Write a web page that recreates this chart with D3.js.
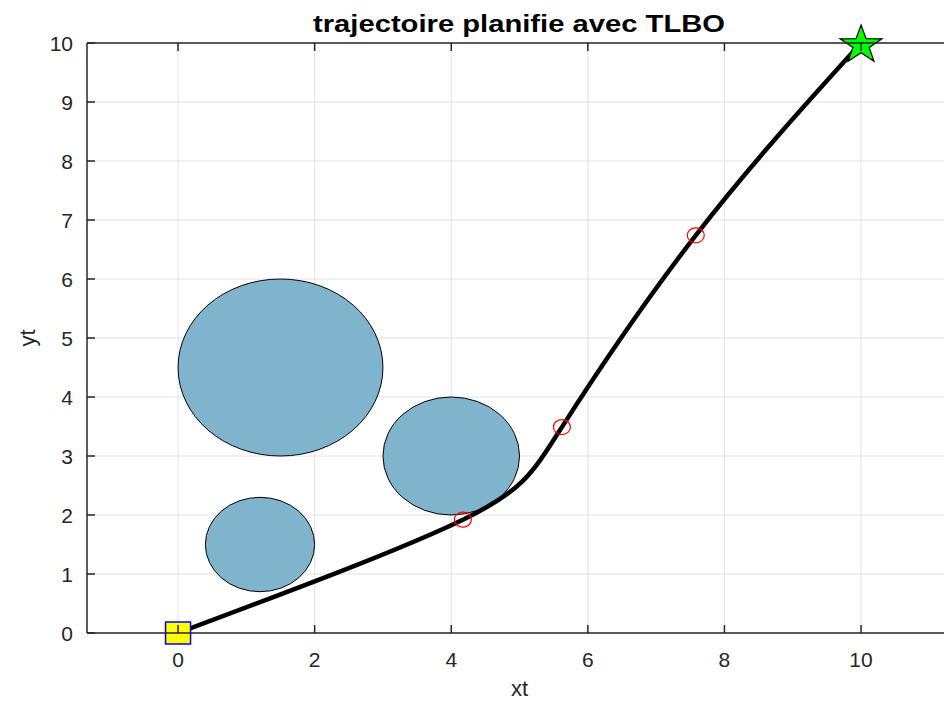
<!DOCTYPE html>
<html>
<head>
<meta charset="utf-8">
<script src="https://cdn.jsdelivr.net/npm/d3@7"></script>
<style>
  body { margin: 0; background: #fff; }
  svg { display: block; font-family: 'Liberation Sans', Arial, sans-serif; }
</style>
</head>
<body>
<svg id="chart" width="944" height="702"></svg>
<script>
// trajectory waypoints (start, via points, goal)
const pathX = [0, 4.17, 5.62, 7.58, 10];
const pathY = [0, 1.92, 3.49, 6.74, 10];
const viaIdx = [1, 2, 3];

// circular obstacles
const obsX = [1.5, 4, 1.2];
const obsY = [4.5, 3, 1.5];
const obsR = [1.5, 1, 0.8];

const xTicks = [0, 2, 4, 6, 8, 10];
const yTicks = [0, 1, 2, 3, 4, 5, 6, 7, 8, 9, 10];

const width = 944, height = 702;
const plot = { left: 87, right: 951, top: 43, bottom: 633 };

const svg = d3.select('#chart');

const x = d3.scaleLinear().domain([-1.333, 11.317]).range([plot.left, plot.right]);
const y = d3.scaleLinear().domain([0, 10]).range([plot.bottom, plot.top]);

// grid
const grid = svg.append('g').attr('class', 'grid');
grid.selectAll('.gx').data(xTicks).join('line')
  .attr('x1', d => x(d)).attr('x2', d => x(d))
  .attr('y1', plot.top).attr('y2', plot.bottom)
  .attr('stroke', '#e3e3e3').attr('stroke-width', 1);
grid.selectAll('.gy').data(yTicks).join('line')
  .attr('x1', plot.left).attr('x2', plot.right)
  .attr('y1', d => y(d)).attr('y2', d => y(d))
  .attr('stroke', '#e3e3e3').attr('stroke-width', 1);

// obstacles
svg.append('g').selectAll('ellipse')
  .data(obsX.map((d, i) => ({ cx: d, cy: obsY[i], r: obsR[i] })))
  .join('ellipse')
  .attr('cx', d => x(d.cx))
  .attr('cy', d => y(d.cy))
  .attr('rx', d => x(d.r) - x(0))
  .attr('ry', d => y(0) - y(d.r))
  .attr('fill', '#80b3cc')
  .attr('stroke', '#000')
  .attr('stroke-width', 1);

// trajectory
const pts = pathX.map((d, i) => [d, pathY[i]]);
const line = d3.line().x(d => x(d[0])).y(d => y(d[1])).curve(d3.curveNatural);
svg.append('path')
  .datum(pts)
  .attr('d', line)
  .attr('fill', 'none')
  .attr('stroke', '#000')
  .attr('stroke-width', 4.5)
  .attr('stroke-linejoin', 'round');

// via points
svg.append('g').selectAll('ellipse')
  .data(viaIdx.map(i => pts[i]))
  .join('ellipse')
  .attr('cx', d => x(d[0]))
  .attr('cy', d => y(d[1]))
  .attr('rx', 8.5).attr('ry', 7.5)
  .attr('fill', 'none')
  .attr('stroke', '#ff0000')
  .attr('stroke-width', 1.2);

// start marker
const s = pts[0];
svg.append('rect')
  .attr('x', x(s[0]) - 12.5).attr('y', y(s[1]) - 11)
  .attr('width', 25).attr('height', 22)
  .attr('fill', '#ffff00')
  .attr('stroke', '#0000ff')
  .attr('stroke-width', 1.5);

// goal marker (pentagram)
const g = pts[pts.length - 1];
const starPts = d3.range(10).map(k => {
  const a = -Math.PI / 2 + k * Math.PI / 5;
  const r = k % 2 === 0 ? 20 : 7.8;
  return [x(g[0]) + 1.1 * r * Math.cos(a), y(g[1]) + r * Math.sin(a) + 2];
});
svg.append('polygon')
  .attr('points', starPts.map(p => p.join(',')).join(' '))
  .attr('fill', '#00ff00')
  .attr('stroke', '#000')
  .attr('stroke-width', 1.2)
  .attr('stroke-linejoin', 'miter');

// axes (drawn on top)
const axisColor = '#262626';
const ax = svg.append('g').attr('class', 'axes');
ax.append('line')
  .attr('x1', plot.left).attr('x2', plot.right)
  .attr('y1', plot.bottom).attr('y2', plot.bottom)
  .attr('stroke', axisColor).attr('stroke-width', 1.5);
ax.append('line')
  .attr('x1', plot.left).attr('x2', plot.right)
  .attr('y1', plot.top).attr('y2', plot.top)
  .attr('stroke', axisColor).attr('stroke-width', 1.5);
ax.append('line')
  .attr('x1', plot.left).attr('x2', plot.left)
  .attr('y1', plot.top).attr('y2', plot.bottom)
  .attr('stroke', axisColor).attr('stroke-width', 1.5);

const tickLen = 8;
ax.selectAll('.tb').data(xTicks).join('line')
  .attr('x1', d => x(d)).attr('x2', d => x(d))
  .attr('y1', plot.bottom).attr('y2', plot.bottom - tickLen)
  .attr('stroke', axisColor).attr('stroke-width', 1.5);
ax.selectAll('.tt').data(xTicks).join('line')
  .attr('x1', d => x(d)).attr('x2', d => x(d))
  .attr('y1', plot.top).attr('y2', plot.top + tickLen)
  .attr('stroke', axisColor).attr('stroke-width', 1.5);
ax.selectAll('.tl').data(yTicks).join('line')
  .attr('x1', plot.left).attr('x2', plot.left + tickLen)
  .attr('y1', d => y(d)).attr('y2', d => y(d))
  .attr('stroke', axisColor).attr('stroke-width', 1.5);

ax.selectAll('.xl').data(xTicks).join('text')
  .attr('x', d => x(d)).attr('y', plot.bottom + 34)
  .attr('text-anchor', 'middle')
  .attr('font-size', 21).attr('fill', axisColor)
  .text(d => d);
ax.selectAll('.yl').data(yTicks).join('text')
  .attr('x', plot.left - 14).attr('y', d => y(d) + 7.5)
  .attr('text-anchor', 'end')
  .attr('font-size', 21).attr('fill', axisColor)
  .text(d => d);

svg.append('text')
  .attr('x', x(5)).attr('y', 696)
  .attr('text-anchor', 'middle')
  .attr('font-size', 22).attr('fill', axisColor)
  .text('xt');
svg.append('text')
  .attr('transform', `translate(35,${y(5)}) rotate(-90)`)
  .attr('text-anchor', 'middle')
  .attr('font-size', 22).attr('fill', axisColor)
  .text('yt');

svg.append('text')
  .attr('x', 313).attr('y', 31.5)
  .attr('font-size', 23).attr('font-weight', 'bold').attr('fill', '#000')
  .attr('textLength', 412).attr('lengthAdjust', 'spacingAndGlyphs')
  .text('trajectoire planifie avec TLBO');
</script>
</body>
</html>
